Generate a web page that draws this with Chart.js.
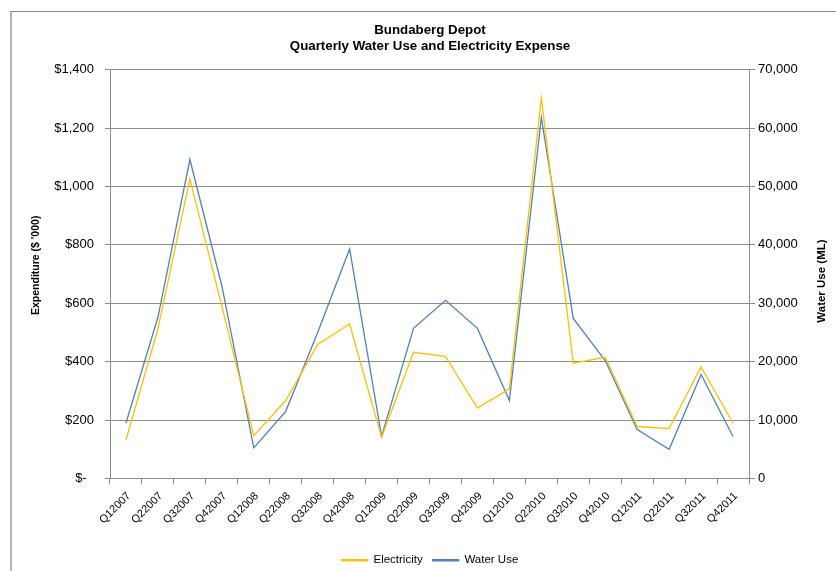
<!DOCTYPE html>
<html>
<head>
<meta charset="utf-8">
<title>Bundaberg Depot</title>
<script src="https://cdn.jsdelivr.net/npm/chart.js@4.4.1/dist/chart.umd.min.js"></script>
<style>
  html, body { margin: 0; padding: 0; background: #fff; }
  #wrap { width: 836px; height: 571px; position: relative; }
</style>
</head>
<body>
<div id="wrap"><canvas id="waterChart" width="836" height="571"></canvas></div>
<script>
// Quarters shown along the bottom
const quarters = ["Q12007", "Q22007", "Q32007", "Q42007", "Q12008", "Q22008", "Q32008", "Q42008",
  "Q12009", "Q22009", "Q32009", "Q42009", "Q12010", "Q22010", "Q32010", "Q42010",
  "Q12011", "Q22011", "Q32011", "Q42011"];

// Electricity expense, $'000 (left axis)
const electricity = [132, 512, 1026, 590, 147, 267, 459, 529, 141, 432,
  418, 241, 307, 1303, 395, 415, 178, 171, 382, 189];

// Water use, ML (right axis)
const waterUse = [9500, 27600, 54600, 33000, 5250, 11500, 25000, 39300, 7200, 25700,
  30500, 25700, 13350, 61800, 27400, 20200, 8400, 5000, 17800, 7200];

// Axis ranges / ticks
const expenseMax = 1400, expenseStep = 200;
const waterMax = 70000, waterStep = 10000;

const font = "'Liberation Sans', Arial, sans-serif";
const gridGrey = "#8c8c8c";

// outer frame line on the top and left of the chart
const framePlugin = {
  id: "frame",
  beforeDraw(chart) {
    const ctx = chart.ctx;
    ctx.save();
    ctx.strokeStyle = "#b4b4b4";
    ctx.lineWidth = 2;
    ctx.beginPath();
    ctx.moveTo(11, 12);
    ctx.lineTo(11, chart.height);
    ctx.stroke();
    ctx.strokeStyle = "#8a8a8a";
    ctx.lineWidth = 1;
    ctx.beginPath();
    ctx.moveTo(10, 11.5);
    ctx.lineTo(chart.width, 11.5);
    ctx.stroke();
    ctx.restore();
  }
};

// right axis title, written bottom-to-top like the left one
const rightTitlePlugin = {
  id: "rightTitle",
  afterDraw(chart) {
    const scale = chart.scales.yWater;
    const ctx = chart.ctx;
    ctx.save();
    ctx.translate(scale.right - 14, (chart.chartArea.top + chart.chartArea.bottom) / 2 + 7);
    ctx.rotate(-Math.PI / 2);
    ctx.font = "bold 11.5px " + font;
    ctx.fillStyle = "#000";
    ctx.textAlign = "center";
    ctx.textBaseline = "middle";
    ctx.fillText("Water Use (ML)", 0, 0);
    ctx.restore();
  }
};

function money(v) {
  if (v === 0) return "$-  ";
  return "$" + v.toLocaleString("en-US");
}

let ctx = document.getElementById("waterChart").getContext("2d");
new Chart(ctx, {
  type: "line",
  data: {
    labels: quarters,
    datasets: [{
      label: "Electricity",
      data: electricity,
      yAxisID: "yExpense",
      borderColor: "#FFC000",
      backgroundColor: "#FFC000",
      borderWidth: 1.3,
      pointRadius: 0,
      tension: 0
    }, {
      label: "Water Use",
      data: waterUse,
      yAxisID: "yWater",
      borderColor: "#4F81BD",
      backgroundColor: "#4F81BD",
      borderWidth: 1.3,
      pointRadius: 0,
      tension: 0
    }]
  },
  options: {
    responsive: false,
    animation: false,
    layout: { padding: { left: 24, right: 0, top: 0, bottom: -5 } },
    plugins: {
      title: {
        display: true,
        text: ["Bundaberg Depot", "Quarterly Water Use and Electricity Expense"],
        color: "#000",
        font: { family: font, size: 13.3, weight: "bold", lineHeight: 1.15 },
        padding: { top: 23, bottom: 16 }
      },
      legend: {
        position: "bottom",
        labels: {
          color: "#000",
          font: { family: font, size: 11.5 },
          boxWidth: 26,
          boxHeight: 1,
          padding: 10
        }
      },
      tooltip: { enabled: false }
    },
    scales: {
      x: {
        offset: true,
        grid: { offset: true, drawOnChartArea: false, color: gridGrey, tickLength: 6 },
        border: { color: gridGrey },
        ticks: {
          color: "#000",
          font: { family: font, size: 11 },
          minRotation: 45,
          maxRotation: 45,
          autoSkip: false,
          labelOffset: 3,
          padding: 5
        },
        afterFit(scale) { scale.height = 66; }
      },
      yExpense: {
        position: "left",
        min: 0,
        max: expenseMax,
        grid: { color: gridGrey, tickLength: 5 },
        border: { color: gridGrey },
        ticks: {
          stepSize: expenseStep,
          color: "#000",
          font: { family: font, size: 13 },
          padding: 11,
          callback: money
        },
        title: {
          display: true,
          text: "      Expenditure ($ '000)",
          color: "#000",
          font: { family: font, size: 10.5, weight: "bold" },
          padding: { top: 6, bottom: 0 }
        },
        afterFit(scale) { scale.width = 86; }
      },
      yWater: {
        position: "right",
        min: 0,
        max: waterMax,
        grid: { drawOnChartArea: false, color: gridGrey, tickLength: 6 },
        border: { color: gridGrey },
        ticks: {
          stepSize: waterStep,
          color: "#000",
          font: { family: font, size: 13 },
          padding: 3,
          callback: v => v.toLocaleString("en-US")
        },
        afterFit(scale) { scale.width = 87; }
      }
    }
  },
  plugins: [framePlugin, rightTitlePlugin]
});
</script>
</body>
</html>
